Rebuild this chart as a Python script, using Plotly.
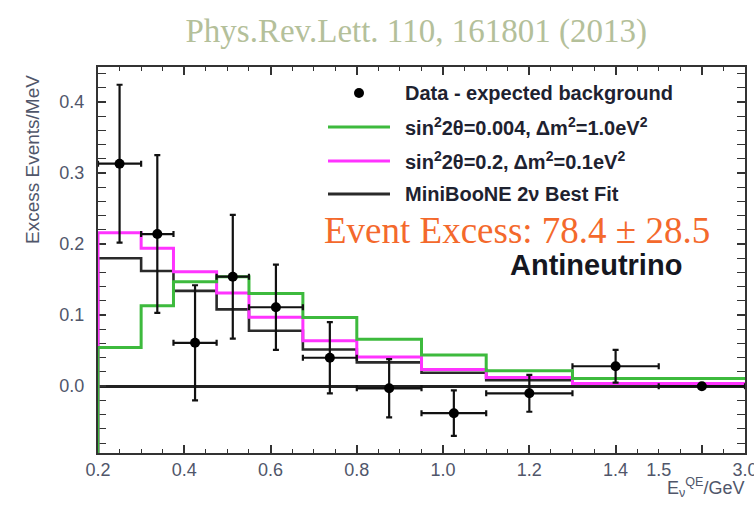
import plotly.graph_objects as go

# Reconstructed neutrino energy binning (GeV)
bin_edges = [0.2, 0.3, 0.375, 0.475, 0.55, 0.675, 0.8, 0.95, 1.1, 1.3, 1.5, 3.0]

# Data minus expected background (events/MeV) and its uncertainty
data_excess = [0.313, 0.214, 0.061, 0.154, 0.111, 0.040, -0.003, -0.038, -0.010, 0.028, 0.0]
data_error = [0.111, 0.111, 0.081, 0.087, 0.060, 0.050, 0.041, 0.032, 0.026, 0.023, 0.003]

# Oscillation predictions per bin
pred_green = [0.0545, 0.113, 0.147, 0.154, 0.1305, 0.0967, 0.066, 0.0437, 0.0216, 0.0108, 0.0108]
pred_magenta = [0.216, 0.194, 0.161, 0.131, 0.097, 0.0638, 0.041, 0.0235, 0.0122, 0.0038, 0.0038]
pred_bestfit = [0.180, 0.162, 0.134, 0.108, 0.078, 0.0517, 0.0335, 0.0188, 0.0085, 0.0025, 0.002]

# Axis labels
x_label_energies = [0.2, 0.4, 0.6, 0.8, 1.0, 1.2, 1.4, 1.5, 3.0]
x_label_text = ["0.2", "0.4", "0.6", "0.8", "1.0", "1.2", "1.4", "1.5", "3.0"]

Y_MIN, Y_MAX = -0.094, 0.449
BREAK = 1.5          # above this energy the axis is compressed
TAIL_WIDTH = 0.2     # displayed width of the 1.5-3.0 GeV range
X_MAX = BREAK + TAIL_WIDTH


def to_axis(e):
    """Map energy (GeV) onto the broken display axis."""
    if e <= BREAK:
        return round(e, 6)
    return round(BREAK + (e - BREAK) * TAIL_WIDTH / (3.0 - BREAK), 6)


edges_u = [to_axis(e) for e in bin_edges]
centers_u = [to_axis(0.5 * (a + b)) for a, b in zip(bin_edges[:-1], bin_edges[1:])]
err_plus = [edges_u[i + 1] - centers_u[i] for i in range(len(centers_u))]
err_minus = [centers_u[i] - edges_u[i] for i in range(len(centers_u))]


def step_trace(values, color, width=3):
    xs = [edges_u[0]] + edges_u[:-1] + [edges_u[-1]]
    ys = [Y_MIN - 0.05] + list(values) + [values[-1]]
    return go.Scatter(x=xs, y=ys, mode="lines", line=dict(color=color, width=width, shape="hv"),
                      showlegend=False, hoverinfo="skip")


fig = go.Figure()
fig.add_trace(step_trace(pred_bestfit, "#2a2a2a", 2.6))
fig.add_trace(step_trace(pred_magenta, "#ff33ff", 3))
fig.add_trace(step_trace(pred_green, "#3dba3d", 3))
fig.add_trace(go.Scatter(
    x=centers_u, y=data_excess, mode="markers",
    marker=dict(color="black", size=10),
    error_y=dict(type="data", array=data_error, color="#111", thickness=2.2, width=3),
    error_x=dict(type="data", array=err_plus, arrayminus=err_minus, color="#111", thickness=2.2, width=3),
    showlegend=False, hoverinfo="skip",
))
# carrier for the label-only overlay axis
fig.add_trace(go.Scatter(x=[0.2], y=[0], xaxis="x2", mode="markers", marker=dict(opacity=0),
                         showlegend=False, hoverinfo="skip"))

axis_color = "#333333"
label_font = dict(family="Liberation Sans, Arial, sans-serif", size=18, color="#50566a")

fig.update_layout(
    width=754, height=507,
    margin=dict(l=98, r=9, t=67, b=54),
    paper_bgcolor="white", plot_bgcolor="white",
    title=dict(text="Phys.Rev.Lett. 110, 161801 (2013)", x=0.552, xanchor="center",
               y=1 - 30 / 507, yanchor="middle",
               font=dict(family="Liberation Serif, Times New Roman, serif", size=33, color="#b4c09a")),
    xaxis=dict(range=[0.2, X_MAX + 1e-6], tickvals=[round(0.2 + 0.2 * i, 6) for i in range(8)],
               showticklabels=False, automargin=False,
               ticks="inside", ticklen=8, tickwidth=1.5, tickcolor=axis_color,
               minor=dict(dtick=0.05, tick0=0.2, ticks="inside", ticklen=4, tickwidth=1.2, tickcolor=axis_color),
               showline=True, linecolor=axis_color, linewidth=2, mirror="allticks",
               showgrid=False, zeroline=False, layer="below traces"),
    xaxis2=dict(range=[0.2, X_MAX + 1e-6], overlaying="x", anchor="y", side="bottom",
                tickvals=[to_axis(e) for e in x_label_energies], ticktext=x_label_text,
                ticks="", ticklabelstandoff=4, tickfont=label_font, ticklabeloverflow="allow",
                automargin=False,
                showline=False, showgrid=False, zeroline=False),
    yaxis=dict(range=[Y_MIN, Y_MAX], tick0=0, dtick=0.1, tickformat=".1f", tickfont=label_font,
               ticks="inside", ticklen=8, tickwidth=1.5, tickcolor=axis_color, ticklabelstandoff=8,
               minor=dict(dtick=0.02, tick0=0, ticks="inside", ticklen=4, tickwidth=1.2, tickcolor=axis_color),
               showline=True, linecolor=axis_color, linewidth=2, mirror="allticks",
               showgrid=False, zeroline=True, zerolinecolor="#222", zerolinewidth=2.5,
               layer="below traces", automargin=False),
)

# Axis titles
fig.add_annotation(text="Excess Events/MeV", xref="paper", yref="paper", x=-0.102, y=0.759,
                   textangle=-90, showarrow=False, xanchor="center", yanchor="middle",
                   font=dict(family="Liberation Sans, Arial, sans-serif", size=19, color="#50566a"))
fig.add_annotation(text="E<sub>ν</sub><sup>QE</sup>/GeV", xref="paper", yref="paper", x=1.003, y=-0.09,
                   showarrow=False, xanchor="right", yanchor="middle",
                   font=dict(family="Liberation Sans, Arial, sans-serif", size=18, color="#50566a"))

# Legend
legend_font = dict(family="Liberation Sans, Arial, sans-serif", size=20, color="#1e2230")
legend_rows = [
    ("Data - expected background", None, 0.9326),
    ("sin<sup>2</sup>2θ=0.004, Δm<sup>2</sup>=1.0eV<sup>2</sup>", "#3dba3d", 0.8446),
    ("sin<sup>2</sup>2θ=0.2, Δm<sup>2</sup>=0.1eV<sup>2</sup>", "#ff33ff", 0.7565),
    ("MiniBooNE 2ν Best Fit", "#2a2a2a", 0.671),
]
for label, color, ypos in legend_rows:
    fig.add_annotation(text="<b>" + label + "</b>", xref="paper", yref="paper", x=0.4714, y=ypos,
                       showarrow=False, xanchor="left", yanchor="middle", font=legend_font)
    if color is None:
        fig.add_shape(type="circle", xref="paper", yref="paper",
                      x0=0.4034 - 5 / 647, x1=0.4034 + 5 / 647, y0=ypos - 5 / 386, y1=ypos + 5 / 386,
                      fillcolor="black", line=dict(width=0))
    else:
        fig.add_shape(type="line", xref="paper", yref="paper", x0=0.3555, x1=0.4513, y0=ypos, y1=ypos,
                      line=dict(color=color, width=3))

fig.add_annotation(text="Event Excess: 78.4 ± 28.5", xref="paper", yref="paper", x=0.6476, y=0.5777,
                   showarrow=False, xanchor="center", yanchor="middle",
                   font=dict(family="Liberation Serif, Times New Roman, serif", size=37, color="#f4692c"))
fig.add_annotation(text="<b>Antineutrino</b>", xref="paper", yref="paper", x=0.7697, y=0.487,
                   showarrow=False, xanchor="center", yanchor="middle",
                   font=dict(family="Liberation Sans, Arial, sans-serif", size=29, color="#15171f"))

fig.write_html("out.html")
